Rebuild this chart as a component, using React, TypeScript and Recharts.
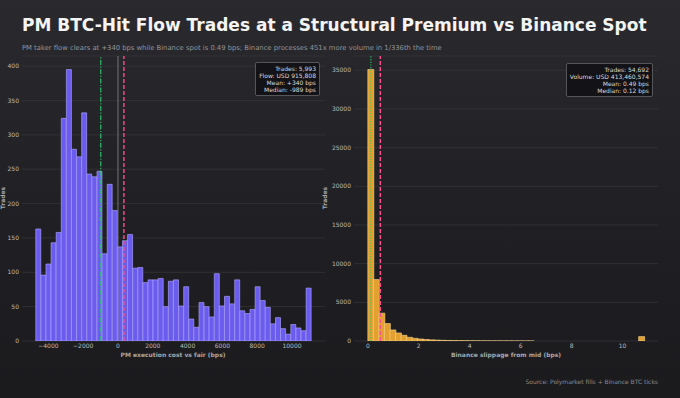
import { ComposedChart, Bar, XAxis, YAxis, CartesianGrid, ReferenceLine } from 'recharts';

const FONT = '"DejaVu Sans", sans-serif';

// left panel: PM execution cost vs fair, 54 bins
const pmRange = [-4725, 11105];
const pmCounts = [
  163, 96, 112, 143, 158, 324, 395, 279, 268, 332, 243, 239, 247, 127, 228, 190, 137, 146,
  155, 106, 107, 85, 89, 89, 91, 50, 87, 89, 51, 79, 32, 20, 56, 50, 35, 98, 51, 65,
  54, 89, 44, 40, 46, 79, 59, 49, 25, 34, 18, 10, 24, 19, 15, 77,
];
const pmMedian = -989;
const pmMean = 340;
const pmXTicks = [-4000, -2000, 0, 2000, 4000, 6000, 8000, 10000];
const pmYTicks = [0, 50, 100, 150, 200, 250, 300, 350, 400];
const pmStats = ['Trades: 5,993', 'Flow: USD 915,808', 'Mean: +340 bps', 'Median: -989 bps'];

// right panel: Binance slippage from mid, 50 bins
const bnRange = [0, 10.85];
const bnCounts = [
  35100, 7950, 3600, 2260, 1430, 1040, 740, 480, 350, 260, 200, 150, 120, 90, 70, 55, 45,
  35, 28, 22, 18, 14, 12, 10, 8, 7, 6, 5, 4, 3, 0, 0, 0, 0, 0, 0, 0, 0, 0, 0, 0, 0, 0, 0,
  0, 0, 0, 0, 0, 570,
];
const bnMedian = 0.12;
const bnMean = 0.49;
const bnXTicks = [0, 2, 4, 6, 8, 10];
const bnYTicks = [0, 5000, 10000, 15000, 20000, 25000, 30000, 35000];
const bnStats = ['Trades: 54,692', 'Volume: USD 413,460,574', 'Mean: 0.49 bps', 'Median: 0.12 bps'];

const C = {
  grid: '#34343a',
  tick: '#bcbcbc',
  label: '#a8a8a8',
  pm: '#6b5cf0',
  pmEdge: '#b2aaff',
  bn: '#e3a02f',
  bnEdge: '#f6d58e',
  median: '#2ecc71',
  mean: '#ff4d8d',
  zero: '#8a8a8a',
};

const H = 398;
const TOP = 56;
const BOTTOM = 341;

function fmtSigned(v: number) {
  return v < 0 ? `\u2212${Math.abs(v)}` : String(v);
}

function bins(counts: number[], range: number[]) {
  const w = (range[1] - range[0]) / counts.length;
  return counts.map((count, i) => ({ bin: i, x: range[0] + (i + 0.5) * w, count }));
}

interface HistProps {
  left: number;
  width: number;
  yAxisWidth: number;
  marginRight: number;
  counts: number[];
  range: number[];
  xTicks: number[];
  yTicks: number[];
  fill: string;
  edge: string;
  median: number;
  mean: number;
  medianDash: string;
  showZero?: boolean;
  xFormat: (v: number) => string;
}

function Histogram(p: HistProps) {
  const data = bins(p.counts, p.range);
  const span = p.range[1] - p.range[0];
  const domain = [p.range[0] - span * 0.05, p.range[1] + span * 0.05];
  const yMax = Math.max(...p.counts) * 1.05;
  const plotW = p.width - p.yAxisWidth - p.marginRight;
  const pad = (0.05 / 1.1) * plotW;
  const tick = { fill: C.tick, fontSize: 6, fontFamily: FONT };

  return (
    <div style={{ position: 'absolute', left: p.left, top: 0 }}>
      <ComposedChart
        width={p.width}
        height={H}
        data={data}
        margin={{ top: TOP, right: p.marginRight, bottom: H - BOTTOM - 14, left: 0 }}
        barCategoryGap={0}
        barGap={0}
      >
        <CartesianGrid xAxisId="val" vertical={false} stroke={C.grid} strokeWidth={0.8} />
        <XAxis
          xAxisId="bin"
          dataKey="bin"
          type="category"
          hide
          height={0}
          padding={{ left: pad, right: pad }}
        />
        <XAxis
          xAxisId="val"
          dataKey="x"
          type="number"
          domain={domain}
          allowDataOverflow
          ticks={p.xTicks}
          interval={0}
          tickFormatter={p.xFormat}
          tick={tick}
          tickLine={false}
          axisLine={false}
          tickSize={1}
          tickMargin={2}
          height={14}
        />
        <YAxis
          type="number"
          domain={[0, yMax]}
          allowDataOverflow
          ticks={p.yTicks}
          interval={0}
          tick={tick}
          tickLine={false}
          axisLine={false}
          tickSize={1}
          tickMargin={2}
          width={p.yAxisWidth}
        />
        <Bar
          xAxisId="bin"
          dataKey="count"
          fill={p.fill}
          stroke={p.edge}
          strokeWidth={0.6}
          isAnimationActive={false}
        />
        {p.showZero && <ReferenceLine xAxisId="val" x={0} stroke={C.zero} strokeWidth={0.8} />}
        <ReferenceLine
          xAxisId="val"
          x={p.median}
          stroke={C.median}
          strokeWidth={1.1}
          strokeDasharray={p.medianDash}
        />
        <ReferenceLine xAxisId="val" x={p.mean} stroke={C.mean} strokeWidth={1.4} strokeDasharray="4 2" />
      </ComposedChart>
    </div>
  );
}

function StatBox({ lines, right, top }: { lines: string[]; right: number; top: number }) {
  return (
    <div
      style={{
        position: 'absolute',
        right,
        top,
        padding: '2px 3px',
        fontSize: 6,
        lineHeight: '7px',
        textAlign: 'right',
        color: '#dcdcdc',
        background: 'rgba(16,16,20,0.88)',
        border: '1px solid #55555a',
        borderRadius: 2,
        whiteSpace: 'nowrap',
      }}
    >
      {lines.map((l) => (
        <div key={l}>{l}</div>
      ))}
    </div>
  );
}

const axisTitle = {
  position: 'absolute' as const,
  fontSize: 6,
  fontWeight: 'bold' as const,
  color: C.label,
  whiteSpace: 'nowrap' as const,
  lineHeight: '6px',
};

export default function App() {
  return (
    <div
      style={{
        position: 'absolute',
        left: 0,
        top: 0,
        width: 680,
        height: H,
        overflow: 'hidden',
        fontFamily: FONT,
        background: 'linear-gradient(180deg, #2a2a2e 0%, #202024 55%, #1b1b1e 100%)',
      }}
    >
      <div
        style={{
          position: 'absolute',
          left: 22,
          top: 17,
          fontSize: 17,
          lineHeight: '17px',
          fontWeight: 'bold',
          color: '#f4f4f4',
          whiteSpace: 'nowrap',
        }}
      >
        PM BTC-Hit Flow Trades at a Structural Premium vs Binance Spot
      </div>
      <div
        style={{
          position: 'absolute',
          left: 22,
          top: 45,
          fontSize: 6.8,
          lineHeight: '7px',
          color: '#939399',
          whiteSpace: 'nowrap',
        }}
      >
        PM taker flow clears at +340 bps while Binance spot is 0.49 bps; Binance processes 451x more volume in 1/336th the time
      </div>

      <Histogram
        left={0}
        width={340}
        yAxisWidth={22}
        marginRight={15}
        counts={pmCounts}
        range={pmRange}
        xTicks={pmXTicks}
        yTicks={pmYTicks}
        fill={C.pm}
        edge={C.pmEdge}
        median={pmMedian}
        mean={pmMean}
        medianDash="5 1.5 1.2 1.5"
        showZero
        xFormat={fmtSigned}
      />
      <Histogram
        left={330}
        width={350}
        yAxisWidth={24}
        marginRight={22}
        counts={bnCounts}
        range={bnRange}
        xTicks={bnXTicks}
        yTicks={bnYTicks}
        fill={C.bn}
        edge={C.bnEdge}
        median={bnMedian}
        mean={bnMean}
        medianDash="1.2 1.5"
        xFormat={(v) => String(v)}
      />

      <StatBox lines={pmStats} right={680 - 320} top={62} />
      <StatBox lines={bnStats} right={680 - 653} top={63} />

      <div style={{ ...axisTitle, left: 173, top: 352, transform: 'translateX(-50%)' }}>
        PM execution cost vs fair (bps)
      </div>
      <div style={{ ...axisTitle, left: 506, top: 352, transform: 'translateX(-50%)' }}>
        Binance slippage from mid (bps)
      </div>
      <div style={{ ...axisTitle, left: 3, top: 198, transform: 'translate(-50%, -50%) rotate(-90deg)' }}>
        Trades
      </div>
      <div style={{ ...axisTitle, left: 325, top: 198, transform: 'translate(-50%, -50%) rotate(-90deg)' }}>
        Trades
      </div>

      <div
        style={{
          position: 'absolute',
          right: 22,
          top: 379,
          fontSize: 6,
          lineHeight: '6px',
          color: '#8a8a8f',
          whiteSpace: 'nowrap',
        }}
      >
        Source: Polymarket fills + Binance BTC ticks
      </div>
    </div>
  );
}
